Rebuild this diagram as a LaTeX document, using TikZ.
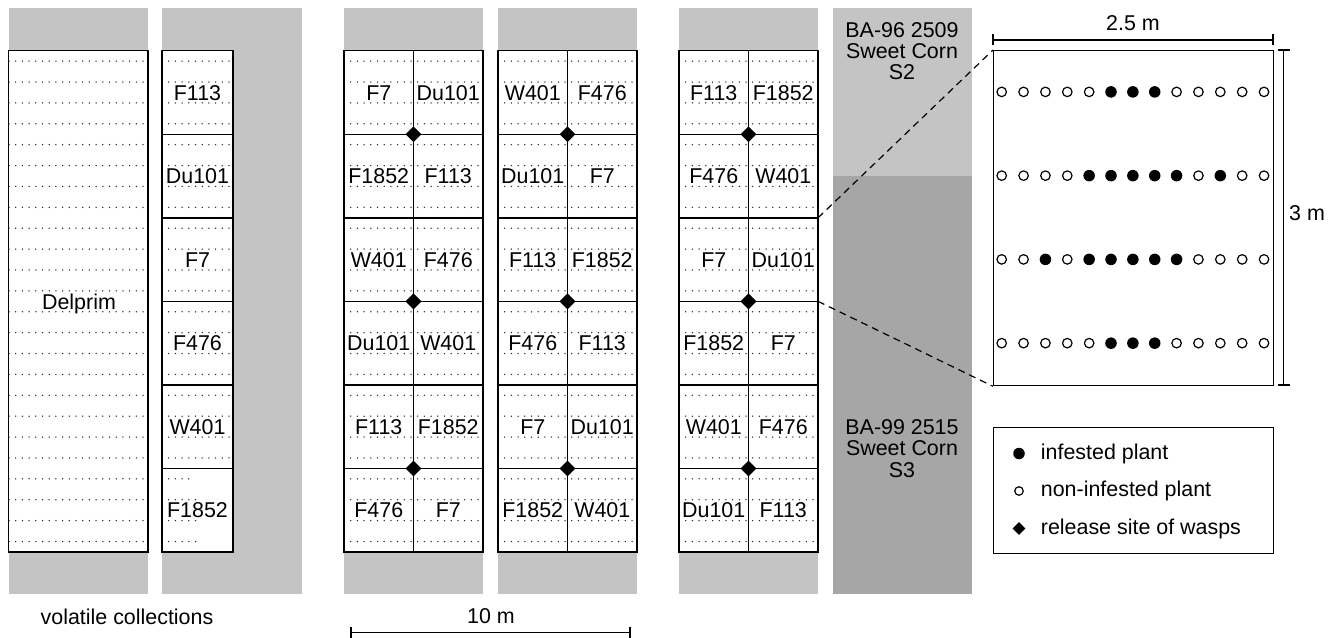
\documentclass[tikz,border=0pt]{standalone}
\usepackage{fontspec}
\setmainfont{Liberation Sans}
\usetikzlibrary{shapes.geometric,calc}
\definecolor{stripgray}{RGB}{196,196,196}
\definecolor{darkstrip}{RGB}{166,166,166}
\definecolor{dotgray}{RGB}{40,40,40}
\newcommand\labfont{\fontsize{21.5}{21.3}\selectfont}
\tikzset{
  edge/.style={line width=1.4bp, draw=black},
  dotline/.style={draw=dotgray, line width=1.5bp, line cap=round, dash pattern=on 0bp off 6.7bp},
  lbl/.style={inner sep=0pt, text height=15.4bp, text depth=0bp, font=\labfont},
  txt/.style={inner sep=0pt, align=center, font=\labfont},
  rel/.style={diamond, fill=black, inner sep=0pt, minimum size=16bp},
  openplant/.style={circle, draw=black, fill=white, line width=1.2bp, inner sep=0pt, minimum size=9.5bp},
  fullplant/.style={circle, fill=black, inner sep=0pt, minimum size=11.5bp},
  dimline/.style={line width=1.3bp, draw=black},
  zoomline/.style={line width=1.2bp, dash pattern=on 7bp off 5bp},
}
% #1 left x, #2 name, #3 labels (12)
\newcommand\plotstrip[3]{%
  \fill[stripgray] (#1,8) rectangle ++(139,586);
  \fill[white] (#1,50.7) rectangle ++(139,501.3);
  \foreach \k in {0,...,23}
    \draw[dotline] (#1,{61.14+20.885*\k}) -- ++(139,0);
  \foreach \b in {1,...,5}
    \draw[edge] (#1,{50.7+83.55*\b}) -- ++(139,0);
  \draw[edge] (#1+69.5,50.7) -- ++(0,501.3);
  \draw[edge] (#1,50.7) rectangle ++(139,501.3);
  \foreach \b in {1,3,5}
    \node[rel] (#2-d\b) at (#1+69.5,{50.7+83.55*\b}) {};
  \foreach \lab [count=\i from 0] in {#3} {
    \pgfmathsetmacro\bx{#1+34.75+69.5*mod(\i,2)}
    \pgfmathsetmacro\by{50.7+83.55*(floor(\i/2)+0.5)}
    \node[lbl] (#2-\i) at (\bx,\by) {\lab};
  }
}
\begin{document}
\begin{tikzpicture}[x=1bp, y=-1bp]
\useasboundingbox (0,0) rectangle (1334,638);

% strip 1: Delprim
\fill[stripgray] (9,8) rectangle (148,594);
\fill[white] (8.5,50.7) rectangle (148,552);
\foreach \k in {0,...,23}
  \draw[dotline] (9,{61.14+20.885*\k}) -- (148,{61.14+20.885*\k});
\draw[edge] (8.5,50.7) rectangle (148,552);
\node[lbl] (delprim) at (79,301.35) {Delprim};

% strip 2: volatile collection lines
\fill[stripgray] (162,8) rectangle (302,594);
\fill[white] (162,50.7) rectangle (233,552);
\foreach \k in {0,...,19}
  \draw[dotline] (162,{61.14+20.885*\k}) -- (233,{61.14+20.885*\k});
\foreach \k/\len in {20/31,21/36,22/36,23/36}
  \draw[dotline] (162,{61.14+20.885*\k}) -- ++(\len,0);
\foreach \b in {1,...,5}
  \draw[edge] (162,{50.7+83.55*\b}) -- (233,{50.7+83.55*\b});
\draw[edge] (162,50.7) rectangle (233,552);
\foreach \lab [count=\i from 0] in {F113,Du101,F7,F476,W401,F1852}
  \node[lbl] (vc-\i) at (197.5,{50.7+83.55*(\i+0.5)}) {\lab};

% experimental strips
\plotstrip{344}{a}{F7,Du101,F1852,F113,W401,F476,Du101,W401,F113,F1852,F476,F7}
\plotstrip{498}{b}{W401,F476,Du101,F7,F113,F1852,F476,F113,F7,Du101,F1852,W401}
\plotstrip{679}{c}{F113,F1852,F476,W401,F7,Du101,F1852,F7,W401,F476,Du101,F113}

% sweet corn strip
\fill[stripgray] (833,8) rectangle (972,176);
\fill[darkstrip] (833,176) rectangle (972,594);
\node[txt] (s2) at (902,51) {BA-96 2509\\Sweet Corn\\S2};
\node[txt] (s3) at (902,448.5) {BA-99 2515\\Sweet Corn\\S3};

% detail plot
\node[draw=black, line width=1.3bp, minimum width=280bp, minimum height=335bp, inner sep=0pt, anchor=north west] (detail) at (993,50) {};
\foreach \r in {0,...,3}
  \foreach \c in {0,...,12}
    \node[openplant] (p\r-\c) at ({1001.7+21.86*\c},{91.9+83.75*\r}) {};
\foreach \r/\c in {0/5,0/6,0/7,1/4,1/5,1/6,1/7,1/8,1/10,2/2,2/4,2/5,2/6,2/7,2/8,3/5,3/6,3/7}
  \node[fullplant] (f\r-\c) at ({1001.7+21.86*\c},{91.9+83.75*\r}) {};

% zoom lines
\coordinate (z1) at (818,217.8);
\coordinate (z2) at (818,301.35);
\draw[zoomline] (z1) -- (detail.north west);
\draw[zoomline] (z2) -- (detail.south west);

% dimension 2.5 m
\coordinate (w1) at (993,40);
\coordinate (w2) at (1273,40);
\draw[dimline] (w1) -- (w2);
\draw[dimline] ($(w1)+(0,-5.5)$) -- ($(w1)+(0,5.5)$);
\draw[dimline] ($(w2)+(0,-5.5)$) -- ($(w2)+(0,5.5)$);
\node[lbl] (w-lab) at (1133,23) {2.5 m};

% dimension 3 m
\coordinate (h1) at (1283.5,50);
\coordinate (h2) at (1283.5,385);
\draw[dimline] (h1) -- (h2);
\draw[dimline] ($(h1)+(-6,0)$) -- ($(h1)+(6,0)$);
\draw[dimline] ($(h2)+(-6,0)$) -- ($(h2)+(6,0)$);
\node[lbl] (h-lab) at (1307,213) {3 m};

% legend
\node[draw=black, line width=1.3bp, minimum width=280bp, minimum height=125.5bp, inner sep=0pt, anchor=north west] (legend) at (993,427) {};
\node[circle, fill=black, inner sep=0pt, minimum size=11.5bp] (lg1) at (1019,453.5) {};
\node[openplant, minimum size=8.5bp] (lg2) at (1019,491) {};
\node[diamond, fill=black, inner sep=0pt, minimum size=13bp] (lg3) at (1019,528.5) {};
\node[anchor=base west, inner sep=0pt, font=\labfont] (lt1) at (1040.7,459) {infested plant};
\node[anchor=base west, inner sep=0pt, font=\labfont] (lt2) at (1040.7,496.7) {non-infested plant};
\node[anchor=base west, inner sep=0pt, font=\labfont] (lt3) at (1040.7,534.3) {release site of wasps};

% bottom texts and scale
\node[lbl] (vol) at (127,616.5) {volatile collections};
\node[lbl] (ten) at (491,616) {10 m};
\coordinate (t1) at (351,632.5);
\coordinate (t2) at (630,632.5);
\draw[dimline] (t1) -- (t2);
\draw[dimline] ($(t1)+(0,-6)$) -- ($(t1)+(0,6)$);
\draw[dimline] ($(t2)+(0,-6)$) -- ($(t2)+(0,6)$);
\end{tikzpicture}
\end{document}
